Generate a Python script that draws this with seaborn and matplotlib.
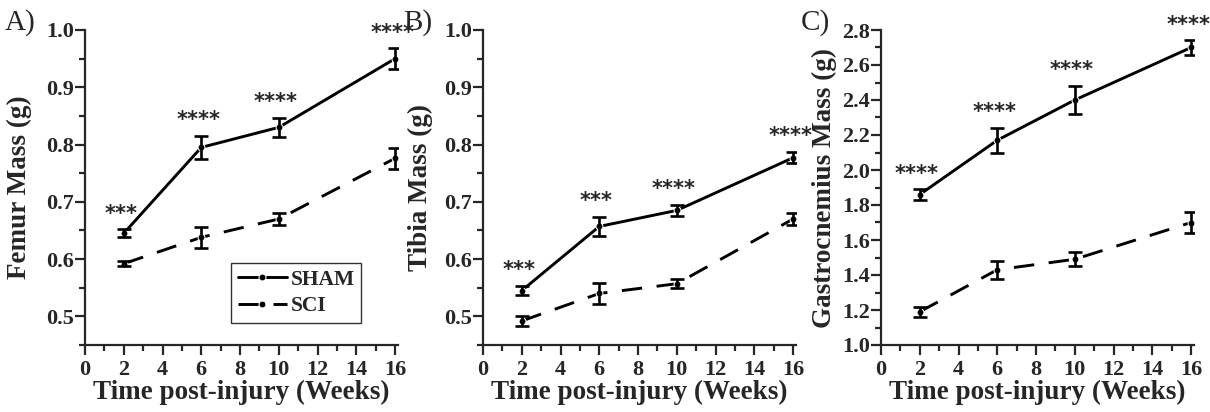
"""Bone and muscle mass over time post-injury, SHAM vs SCI."""
import matplotlib
matplotlib.use('Agg')
import matplotlib.pyplot as plt
import seaborn as sns
import pandas as pd
from matplotlib.ticker import MultipleLocator, FormatStrFormatter

# %%
weeks = [2, 6, 10, 16]

femur_sham = [0.645, 0.795, 0.830, 0.950]
femur_sham_err = [0.007, 0.020, 0.017, 0.018]
femur_sci = [0.592, 0.638, 0.670, 0.776]
femur_sci_err = [0.004, 0.018, 0.010, 0.018]
femur_stars = ['***', '****', '****', '****']

tibia_sham = [0.545, 0.657, 0.685, 0.777]
tibia_sham_err = [0.008, 0.017, 0.010, 0.010]
tibia_sci = [0.492, 0.540, 0.557, 0.670]
tibia_sci_err = [0.008, 0.018, 0.008, 0.010]
tibia_stars = ['***', '***', '****', '****']

gastro_sham = [1.86, 2.17, 2.40, 2.70]
gastro_sham_err = [0.03, 0.07, 0.08, 0.04]
gastro_sci = [1.19, 1.43, 1.49, 1.70]
gastro_sci_err = [0.03, 0.05, 0.04, 0.06]
gastro_stars = ['****', '****', '****', '****']

# %%
sns.set_style('ticks')
plt.rcParams['font.family'] = ['Liberation Serif', 'DejaVu Serif']
plt.rcParams['font.weight'] = 'bold'
plt.rcParams['axes.linewidth'] = 1.6

fig = plt.figure(figsize=(12.1, 4.12), dpi=100)

panels = [
    ('A)', 'Femur Mass (g)', femur_sham, femur_sham_err, femur_sci, femur_sci_err,
     femur_stars, (0.45, 1.0), 0.1, 0.05, 85, -0.17),
    ('B)', 'Tibia Mass (g)', tibia_sham, tibia_sham_err, tibia_sci, tibia_sci_err,
     tibia_stars, (0.45, 1.0), 0.1, 0.05, 483, -0.16),
    ('C)', 'Gastrocnemius Mass (g)', gastro_sham, gastro_sham_err, gastro_sci, gastro_sci_err,
     gastro_stars, (1.0, 2.8), 0.2, 0.1, 881, -0.14),
]

W, H = 1210, 412

for label, ylab, sham, sham_e, sci, sci_e, stars, ylim, ymaj, ymin, left, ylab_x in panels:
    ax = fig.add_axes([left / W, 67 / H, 313 / W, 315 / H])
    df = pd.DataFrame({
        'Week': weeks * 2,
        'Mass': sham + sci,
        'Group': ['SHAM'] * 4 + ['SCI'] * 4,
    })
    sns.lineplot(data=df, x='Week', y='Mass', style='Group', color='black',
                 markers={'SHAM': 'o', 'SCI': 'o'}, dashes={'SHAM': '', 'SCI': (7, 5)},
                 markersize=5, linewidth=2.1, errorbar=None, ax=ax, legend=(label == 'A)'))
    ax.errorbar(weeks, sham, yerr=sham_e, fmt='none', ecolor='black',
                elinewidth=1.9, capsize=5, capthick=1.9)
    ax.errorbar(weeks, sci, yerr=sci_e, fmt='none', ecolor='black',
                elinewidth=1.9, capsize=5, capthick=1.9)

    for x, y, e, s in zip(weeks, sham, sham_e, stars):
        ax.annotate(s, (x, y + e), xytext=(-2, 4), textcoords='offset points',
                    ha='center', va='bottom', fontsize=15, fontweight='bold',
                    family='DejaVu Sans')

    ax.set_xlim(0, 16.15)
    ax.set_ylim(*ylim)
    ax.xaxis.set_major_locator(MultipleLocator(2))
    ax.xaxis.set_minor_locator(MultipleLocator(1))
    ax.yaxis.set_major_locator(MultipleLocator(ymaj))
    ax.yaxis.set_minor_locator(MultipleLocator(ymin))
    ax.tick_params(which='major', direction='out', length=7, width=1.6, labelsize=16)
    ax.tick_params(which='minor', direction='out', length=4, width=1.6)
    ax.tick_params(axis='y', which='major', pad=1)
    if ylim[0] == 0.45:
        ax.set_yticks([0.5, 0.6, 0.7, 0.8, 0.9, 1.0])
    ax.yaxis.set_major_formatter(FormatStrFormatter('%.1f'))
    for t in ax.get_xticklabels() + ax.get_yticklabels():
        t.set_fontweight('bold')

    ax.set_xlabel('Time post-injury (Weeks)', fontsize=19.5, fontweight='bold', labelpad=0)
    ax.set_ylabel(ylab, fontsize=19.5, fontweight='bold')
    ax.yaxis.set_label_coords(ylab_x, 0.5)
    ax.spines['top'].set_visible(False)
    ax.spines['right'].set_visible(False)

    fig.text((left - 80) / W, 1 - 23 / H, label, fontsize=21, fontweight='normal',
             ha='left', va='center')

    if label == 'A)':
        leg = ax.legend(title=None, loc='lower right', bbox_to_anchor=(0.882, 0.07),
                        frameon=True, fancybox=False, edgecolor='black',
                        prop={'weight': 'bold', 'size': 15.5}, handlelength=2.3,
                        borderpad=0.3, labelspacing=0.3, handletextpad=0.15,
                        borderaxespad=0)
        leg.get_frame().set_linewidth(1.0)

plt.savefig('out.png', dpi=100)
